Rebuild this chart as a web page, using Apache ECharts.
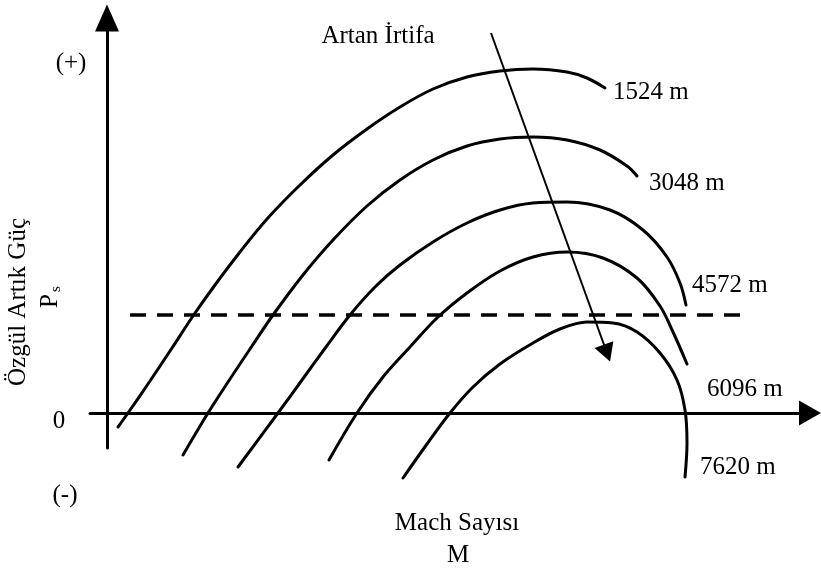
<!DOCTYPE html>
<html>
<head>
<meta charset="utf-8">
<title>Özgül Artık Güç - Mach Sayısı</title>
<script src="https://cdn.jsdelivr.net/npm/echarts@6/dist/echarts.min.js"></script>
<style>
    html, body { margin: 0; padding: 0; background: #fff; }
    #chart { width: 821px; height: 569px; }
</style>
</head>
<body>
<div id="chart"></div>
<script>
// irtifa etiketleri (egri sirasiyla)
const altitudes = ["1524 m", "3048 m", "4572 m", "6096 m", "7620 m"];

// egriler: [Mach (sematik), Ps (sematik)]
const ps1524 = [[0.11, -0.14], [0.21, 0], [0.43, 0.32], [0.65, 0.65], [0.86, 0.97], [1.08, 1.28], [1.33, 1.61], [1.60, 1.94], [1.93, 2.28], [2.26, 2.58], [2.60, 2.84], [2.93, 3.06], [3.26, 3.24], [3.60, 3.36], [3.93, 3.42], [4.26, 3.44], [4.60, 3.41], [4.80, 3.35], [4.98, 3.25]];
const ps3048 = [[0.76, -0.42], [1.01, 0], [1.23, 0.34], [1.45, 0.67], [1.66, 0.98], [1.96, 1.38], [2.26, 1.73], [2.60, 2.07], [2.93, 2.33], [3.26, 2.53], [3.60, 2.67], [3.93, 2.74], [4.26, 2.76], [4.60, 2.73], [4.93, 2.63], [5.20, 2.47], [5.30, 2.37]];
const ps4572 = [[1.31, -0.54], [1.71, 0], [1.95, 0.33], [2.19, 0.66], [2.43, 0.98], [2.68, 1.26], [2.93, 1.48], [3.26, 1.71], [3.60, 1.90], [3.93, 2.03], [4.26, 2.10], [4.60, 2.11], [5.03, 2.03], [5.36, 1.83], [5.60, 1.56], [5.73, 1.30], [5.79, 1.08]];
const ps6096 = [[2.22, -0.47], [2.50, 0], [2.76, 0.36], [3.03, 0.66], [3.30, 0.95], [3.60, 1.20], [3.93, 1.42], [4.26, 1.56], [4.60, 1.61], [4.96, 1.55], [5.30, 1.35], [5.53, 1.07], [5.66, 0.81], [5.80, 0.49]];
const ps7620 = [[2.96, -0.65], [3.20, -0.31], [3.43, 0], [3.66, 0.26], [3.93, 0.49], [4.26, 0.70], [4.53, 0.84], [4.80, 0.91], [5.06, 0.90], [5.30, 0.81], [5.53, 0.60], [5.70, 0.33], [5.78, 0.03], [5.80, -0.30], [5.78, -0.64]];

// kesikli seviye cizgisi
const levelPs = 0.98;
const levelM = [0.23, 6.43];

// "Artan Irtifa" oku
const arrowFrom = [3.84, 3.80];
const arrowTo = [5.00, 0.60];

// etiketlerin egri ucundan kaymasi
const labelOffsets = [[0, 4], [4, 7], [-2, -20], [12, 25], [7, -10]];

const curves = [ps1524, ps3048, ps4572, ps6096, ps7620];
const FONT = "Liberation Serif";

let chart = echarts.init(document.getElementById("chart"));

let series = curves.map((data, i) => ({
    name: altitudes[i],
    type: "line",
    data: data,
    smooth: 0.35,
    clip: false,
    showSymbol: false,
    lineStyle: { color: "#000", width: 3, cap: "round" },
    endLabel: {
        show: true,
        formatter: "{a}",
        offset: labelOffsets[i],
        color: "#000",
        fontFamily: FONT,
        fontSize: 25,
    },
    silent: true,
}));

series.push({
    name: "level",
    type: "line",
    data: [[levelM[0], levelPs], [levelM[1], levelPs]],
    showSymbol: false,
    lineStyle: { color: "#000", width: 3.5, type: [16, 11] },
    silent: true,
});

series.push({
    name: "arrow",
    type: "line",
    data: [],
    markLine: {
        silent: true,
        symbol: ["none", "triangle"],
        symbolSize: [20, 18],
        label: { show: false },
        lineStyle: { color: "#000", width: 2, type: "solid" },
        data: [[{ coord: arrowFrom }, { coord: arrowTo }]],
    },
});

function txt(text, x, y, size, rotate) {
    return {
        type: "text",
        x: x,
        y: y,
        rotation: rotate ? Math.PI / 2 : 0,
        style: {
            text: text,
            fill: "#000",
            fontFamily: FONT,
            fontSize: size || 25,
            align: "center",
            verticalAlign: "middle",
        },
    };
}

let option = {
    backgroundColor: "#fff",
    animation: false,
    grid: { left: 90, right: 11, top: 18, bottom: 121 },
    xAxis: {
        type: "value",
        min: -0.17,
        max: 7.03,
        axisLine: {
            onZero: true,
            symbol: ["none", "triangle"],
            symbolSize: [25, 22],
            lineStyle: { color: "#000", width: 3 },
        },
        axisTick: { show: false },
        axisLabel: { show: false },
        splitLine: { show: false },
    },
    yAxis: {
        type: "value",
        min: -0.35,
        max: 3.95,
        axisLine: {
            onZero: true,
            symbol: ["none", "triangle"],
            symbolSize: [24, 27],
            lineStyle: { color: "#000", width: 3 },
        },
        axisTick: { show: false },
        axisLabel: { show: false },
        splitLine: { show: false },
    },
    graphic: [
        txt("Artan İrtifa", 378, 36),
        txt("(+)", 71, 63),
        txt("0", 59, 421),
        txt("(-)", 65, 495),
        txt("Mach Sayısı", 457, 523),
        txt("M", 458, 555),
        txt("Özgül Artık Güç", 18, 302, 25, true),
        txt("P", 50, 301, 25, true),
        txt("s", 56, 289, 15, true),
    ],
    series: series,
};

chart.setOption(option);
</script>
</body>
</html>
